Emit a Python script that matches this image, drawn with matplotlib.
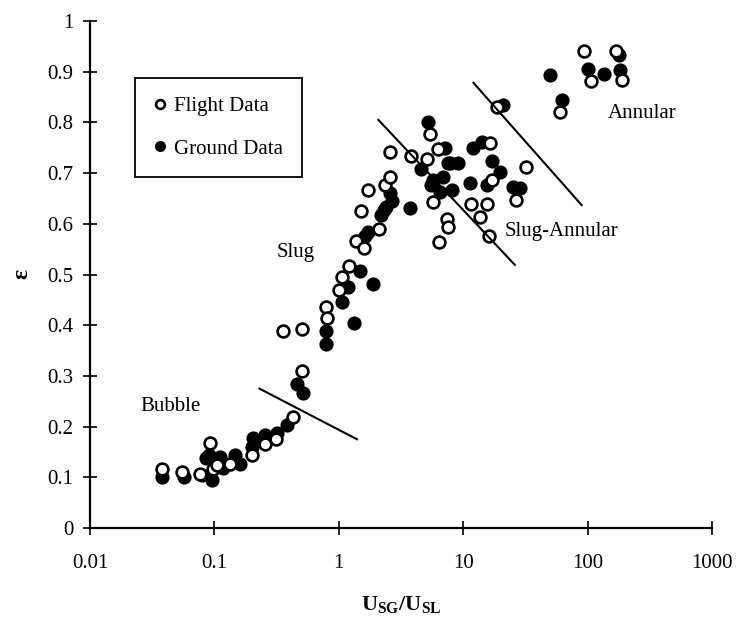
import matplotlib
matplotlib.use('Agg')
import matplotlib.pyplot as plt

plt.rcParams['font.family'] = ['Liberation Serif', 'DejaVu Serif']
plt.rcParams['mathtext.fontset'] = 'custom'
plt.rcParams['mathtext.rm'] = 'Liberation Serif'

# Flight data (open circles): Usg/Usl, void fraction
flight_x = [0.038, 0.055, 0.076, 0.092, 0.098, 0.104, 0.133, 0.20, 0.255, 0.31,
            0.43, 0.51, 0.355, 0.51, 0.79, 0.80, 1.01, 1.07, 1.21, 1.38,
            1.6, 1.5, 2.12, 1.73, 2.37, 2.58, 2.58, 3.8, 5.1, 5.4,
            6.3, 5.7, 7.4, 7.6, 6.4, 11.6, 13.6, 15.4, 16.3, 16.2,
            17.1, 26.6, 32.0, 18.7, 60, 94, 106, 170, 190]
flight_y = [0.117, 0.110, 0.107, 0.167, 0.116, 0.124, 0.127, 0.143, 0.165, 0.175,
            0.218, 0.310, 0.388, 0.392, 0.436, 0.414, 0.470, 0.496, 0.517, 0.566,
            0.553, 0.625, 0.590, 0.666, 0.676, 0.693, 0.742, 0.733, 0.728, 0.778,
            0.748, 0.643, 0.609, 0.594, 0.564, 0.640, 0.614, 0.639, 0.760, 0.576,
            0.686, 0.646, 0.712, 0.830, 0.821, 0.940, 0.881, 0.941, 0.883]

# Ground data (filled circles)
ground_x = [0.038, 0.057, 0.079, 0.086, 0.090, 0.095, 0.111, 0.118, 0.121, 0.146,
            0.160, 0.200, 0.205, 0.255, 0.316, 0.38, 0.46, 0.52, 0.79, 0.79,
            1.06, 1.19, 1.33, 1.48, 1.89, 1.63, 1.73, 2.2, 2.3, 2.4,
            2.56, 2.7, 3.72, 4.6, 5.25, 5.5, 5.7, 6.5, 6.9, 7.2,
            7.6, 7.9, 8.1, 9.1, 11.3, 12.1, 14.1, 15.4, 17.1, 19.8,
            21.0, 25.2, 28.7, 50, 62, 100, 136, 180, 183]
ground_y = [0.101, 0.101, 0.104, 0.138, 0.143, 0.094, 0.141, 0.118, 0.124, 0.144,
            0.127, 0.160, 0.177, 0.183, 0.188, 0.203, 0.285, 0.266, 0.389, 0.362,
            0.446, 0.476, 0.404, 0.506, 0.481, 0.575, 0.584, 0.617, 0.627, 0.634,
            0.660, 0.644, 0.632, 0.709, 0.800, 0.677, 0.686, 0.663, 0.693, 0.750,
            0.719, 0.720, 0.667, 0.720, 0.680, 0.749, 0.762, 0.677, 0.724, 0.702,
            0.835, 0.673, 0.670, 0.893, 0.844, 0.905, 0.895, 0.933, 0.903]

# regime boundary lines
bubble_slug_x = [0.23, 1.4]
bubble_slug_y = [0.275, 0.175]
slug_sa_x = [2.08, 26.0]
slug_sa_y = [0.805, 0.519]
sa_annular_x = [12.1, 89.5]
sa_annular_y = [0.878, 0.637]

x_ticks = [0.01, 0.1, 1, 10, 100, 1000]
x_tick_labels = ['0.01', '0.1', '1', '10', '100', '1000']
y_ticks = [0, 0.1, 0.2, 0.3, 0.4, 0.5, 0.6, 0.7, 0.8, 0.9, 1]
y_tick_labels = ['0', '0.1', '0.2', '0.3', '0.4', '0.5', '0.6', '0.7', '0.8', '0.9', '1']

W, H = 737, 621
fig = plt.figure(figsize=(W / 100, H / 100), dpi=100)
ax = fig.add_axes([90 / W, 93 / H, 622 / W, 507 / H])

ax.plot(ground_x, ground_y, 'o', ls='none', ms=9, mfc='black', mec='black',
        mew=1.2, label='Ground Data', clip_on=False)
ax.plot(flight_x, flight_y, 'o', ls='none', ms=8.5, mfc='white', mec='black',
        mew=1.9, label='Flight Data', clip_on=False)

for lx, ly in [(bubble_slug_x, bubble_slug_y), (slug_sa_x, slug_sa_y),
               (sa_annular_x, sa_annular_y)]:
    ax.plot(lx, ly, color='black', lw=1.5)

ax.set_xscale('log')
ax.set_xlim(0.01, 1000)
ax.set_ylim(0, 1)
ax.set_xticks(x_ticks)
ax.set_xticklabels(x_tick_labels)
ax.set_yticks(y_ticks)
ax.set_yticklabels(y_tick_labels)
ax.minorticks_off()
ax.tick_params(axis='x', direction='inout', length=10, width=1.2, pad=14, labelsize=15)
ax.tick_params(axis='y', direction='inout', length=10, width=1.2, pad=7, labelsize=15)

for s in ['top', 'right']:
    ax.spines[s].set_visible(False)
for s in ['left', 'bottom']:
    ax.spines[s].set_linewidth(1.6)

# regime names
ax.text(0.044, 0.24, 'Bubble', fontsize=15, ha='center', va='center')
ax.text(0.45, 0.544, 'Slug', fontsize=15, ha='center', va='center')
ax.text(21.6, 0.584, 'Slug-Annular', fontsize=15, ha='left', va='center')
ax.text(145, 0.818, 'Annular', fontsize=15, ha='left', va='center')

handles, labels = ax.get_legend_handles_labels()
leg = ax.legend(handles[::-1], labels[::-1], loc='upper left',
                bbox_to_anchor=(0.072, 0.888), borderaxespad=0, fancybox=False,
                edgecolor='black', fontsize=15, markerscale=0.75, handlelength=0.6,
                handletextpad=0.4, labelspacing=1.1, borderpad=0.9, framealpha=1)
leg.get_frame().set_linewidth(1.3)

fig.text(401 / W, 1 - 605 / H, r'U$_{\mathregular{SG}}$/U$_{\mathregular{SL}}$',
         fontsize=16, fontweight='bold', ha='center', va='center')
fig.text(22 / W, 1 - 274 / H, 'ε', fontsize=17, fontweight='bold', rotation=90,
         ha='center', va='center')

fig.savefig('out.png', dpi=100)
